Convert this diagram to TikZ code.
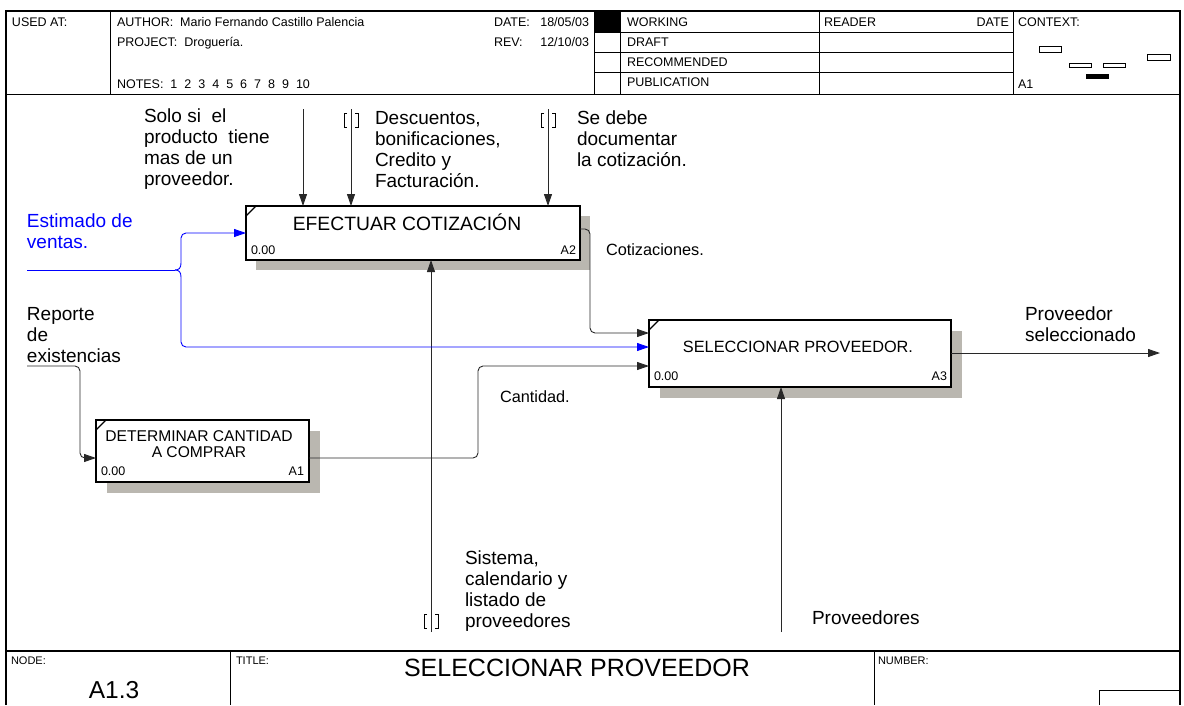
\documentclass[tikz,border=0pt]{standalone}
\usepackage{fontspec}
\setmainfont{Liberation Sans}
\usetikzlibrary{arrows.meta,calc}
\definecolor{flowblue}{RGB}{0,0,255}
\definecolor{shadowgray}{RGB}{186,183,176}
\definecolor{wire}{RGB}{40,40,40}
\newcommand{\fsz}[2]{\fontsize{#1}{#2}\selectfont}
\newcommand{\nsp}{\hspace{7pt}}
\begin{document}
\begin{tikzpicture}[x=1pt,y=-1pt,
  every node/.style={inner sep=0pt,outer sep=0pt},
  frameline/.style={line width=1.1pt},
  thinrule/.style={line width=0.8pt},
  tbl/.style={font=\fsz{12.5}{14}, anchor=base west},
  tblr/.style={font=\fsz{12.5}{14}, anchor=base east},
  foot/.style={font=\fsz{11}{13}, anchor=base west},
  lbl/.style={font=\fsz{19}{21}, align=left, anchor=north west},
  midlbl/.style={font=\fsz{16.3}{18}, anchor=north west},
  actbox/.style={draw=black, fill=white, line width=1.8pt, anchor=north west},
  boxid/.style={font=\fsz{12.5}{14}},
  shade/.style={fill=shadowgray},
  arrowtip/.style={-{Triangle[length=12pt,width=8pt]}},
  conn/.style={draw=wire, line width=0.9pt, rounded corners=5pt, arrowtip},
  blueconn/.style={draw=flowblue, line width=0.9pt},
  tunnel/.pic={\draw[line width=0.8pt] (-4,-7) -- (-7,-7) -- (-7,7) -- (-4,7)
                                       (4,-7) -- (7,-7) -- (7,7) -- (4,7);}
]
\useasboundingbox (0,0) rectangle (1184,705);

% ---------- outer frame and header table ----------
\draw[frameline] (6,705) -- (6,11) -- (1180,11) -- (1180,705);
\draw[thinrule] (6,94) -- (1180,94);
\draw[thinrule] (110,11) -- (110,94);
\draw[thinrule] (594,11) -- (594,94);
\draw[thinrule] (620,11) -- (620,94);
\draw[thinrule] (819,11) -- (819,94);
\draw[thinrule] (1013,11) -- (1013,94);
\draw[thinrule] (594,32) -- (1013,32) (594,52) -- (1013,52) (594,72) -- (1013,72);
\fill (594,11) rectangle (620,32);

\node[tbl] (usedat) at (12,26) {USED AT:};
\node[tbl] (author) at (117,26) {AUTHOR:\ \ Mario Fernando Castillo Palencia};
\node[tbl] (project) at (117,46) {PROJECT:\ \ Droguería.};
\node[tbl] (notes) at (117,88) {NOTES:\ \ 1\nsp2\nsp3\nsp4\nsp5\nsp6\nsp7\nsp8\nsp9\nsp10};
\node[tbl] (datek) at (494,26) {DATE:};
\node[tblr] (datev) at (589,26) {18/05/03};
\node[tbl] (revk) at (494,46) {REV:};
\node[tblr] (revv) at (589,46) {12/10/03};
\node[tbl] (working) at (627,26) {WORKING};
\node[tbl] (draft) at (627,46) {DRAFT};
\node[tbl] (recom) at (627,66) {RECOMMENDED};
\node[tbl] (public) at (627,86) {PUBLICATION};
\node[tbl] (reader) at (824,26) {READER};
\node[tblr] (rdate) at (1009,26) {DATE};
\node[tbl] (context) at (1018,26) {CONTEXT:};
\node[tbl] (ctxid) at (1018,88) {A1};

% context thumbnail
\draw[line width=0.9pt] (1039,46) rectangle (1061,52);
\draw[line width=0.9pt] (1069,63) rectangle (1091,67);
\draw[line width=0.9pt] (1103,63) rectangle (1125,67);
\draw[line width=0.9pt] (1147,54) rectangle (1170,60);
\fill (1086,74) rectangle (1109,79);

% ---------- footer table ----------
\draw[frameline] (6,651) -- (1180,651);
\draw[thinrule] (230,651) -- (230,705);
\draw[thinrule] (874,651) -- (874,705);
\draw[thinrule] (1099,705) -- (1099,690) -- (1180,690);
\node[foot] (nodek) at (11,664) {NODE:};
\node[foot] (titlek) at (236,664) {TITLE:};
\node[foot] (numberk) at (878,664) {NUMBER:};
\node[font=\fsz{24.5}{28}, anchor=base] (nodev) at (114,698) {A1.3};
\node[font=\fsz{25}{28}, anchor=base] (titlev) at (577,676) {SELECCIONAR PROVEEDOR};

% ---------- activity boxes ----------
\fill[shade] (256,216) rectangle (590,270);
\node[actbox, minimum width=334pt, minimum height=54pt] (a2) at (246,206) {};
\draw[line width=1.2pt] ($(a2.north west)+(0,10)$) -- ($(a2.north west)+(10,0)$);
\node[font=\fsz{19.3}{22}, anchor=base] (a2t) at (407,230) {EFECTUAR COTIZACIÓN};
\node[boxid, anchor=base west] (a2n) at (251,254) {0.00};
\node[boxid, anchor=base east] (a2c) at (576,254) {A2};

\fill[shade] (660,331) rectangle (962,398);
\node[actbox, minimum width=302pt, minimum height=67pt] (a3) at (649,320) {};
\draw[line width=1.2pt] ($(a3.north west)+(0,10)$) -- ($(a3.north west)+(10,0)$);
\node[font=\fsz{16.3}{19}, anchor=base] (a3t) at (798,352) {SELECCIONAR PROVEEDOR.};
\node[boxid, anchor=base west] (a3n) at (654,380) {0.00};
\node[boxid, anchor=base east] (a3c) at (947,380) {A3};

\fill[shade] (107,431) rectangle (320,493);
\node[actbox, minimum width=213pt, minimum height=62pt] (a1) at (96,420) {};
\draw[line width=1.2pt] ($(a1.north west)+(0,10)$) -- ($(a1.north west)+(10,0)$);
\node[font=\fsz{15.6}{16}, align=center, anchor=base] (a1t) at (199,457) {DETERMINAR CANTIDAD\\A COMPRAR};
\node[boxid, anchor=base west] (a1n) at (101,475) {0.00};
\node[boxid, anchor=base east] (a1c) at (304,475) {A1};

% ---------- controls ----------
\coordinate (ctlA) at (303,109);
\coordinate (ctlB) at (351,109);
\coordinate (ctlC) at (548,109);
\draw[conn] (ctlA) -- (ctlA |- a2.north);
\draw[conn] (ctlB) -- (ctlB |- a2.north);
\draw[conn] (ctlC) -- (ctlC |- a2.north);
\pic at (351,120) {tunnel};
\pic at (548,120) {tunnel};
\node[lbl] (lblA) at (144,109) {Solo si\ \ el\\producto\ \ tiene\\mas de un\\proveedor.};
\node[lbl] (lblB) at (375,111) {Descuentos,\\bonificaciones,\\Credito y\\Facturación.};
\node[lbl] (lblC) at (577,111) {Se debe\\documentar\\la cotización.};

% ---------- mechanisms ----------
\coordinate (mecA) at (431,632);
\coordinate (mecB) at (781,632);
\draw[conn] (mecA) -- (mecA |- a2.south);
\draw[conn] (mecB) -- (mecB |- a3.south);
\pic at (431,621) {tunnel};
\node[lbl] (lblM) at (465,551) {Sistema,\\calendario y\\listado de\\proveedores};
\node[lbl] (lblP) at (812,611) {Proveedores};

% ---------- inputs ----------
\coordinate (estS) at (27,270);
\coordinate (brace) at (175,270);
\draw[blueconn] (estS) -- (brace);
\draw[blueconn, arrowtip] (brace) .. controls (179,270) and (181,268) .. (181,263)
   [rounded corners=5pt] -- (181,233) -- (a2.west);
\draw[blueconn, arrowtip] (brace) .. controls (179,270) and (181,272) .. (181,277)
   [rounded corners=5pt] -- (181,347) -- ($(a3.north west)+(0,27)$);
\node[lbl, text=flowblue] (lblE) at (27,214) {Estimado de\\ventas.};

\coordinate (repS) at (27,366);
\draw[conn] (repS) -- (80,366) -- (80,458) -- ($(a1.north west)+(0,38)$);
\node[lbl] (lblR) at (27,307) {Reporte\\de\\existencias};

% ---------- outputs ----------
\draw[conn] ($(a2.north east)+(0,23)$) -- (590,229) -- (590,333) -- ($(a3.north west)+(0,13)$);
\node[midlbl] (lblQ) at (606,244) {Cotizaciones.};
\draw[conn] ($(a1.north east)+(0,38)$) -- (478,458) -- (478,366) -- ($(a3.north west)+(0,46)$);
\node[midlbl] (lblK) at (500,391) {Cantidad.};
\coordinate (outE) at (1160,353);
\draw[conn] ($(a3.north east)+(0,33)$) -- (outE);
\node[lbl] (lblO) at (1025,307) {Proveedor\\seleccionado};
\end{tikzpicture}
\end{document}
